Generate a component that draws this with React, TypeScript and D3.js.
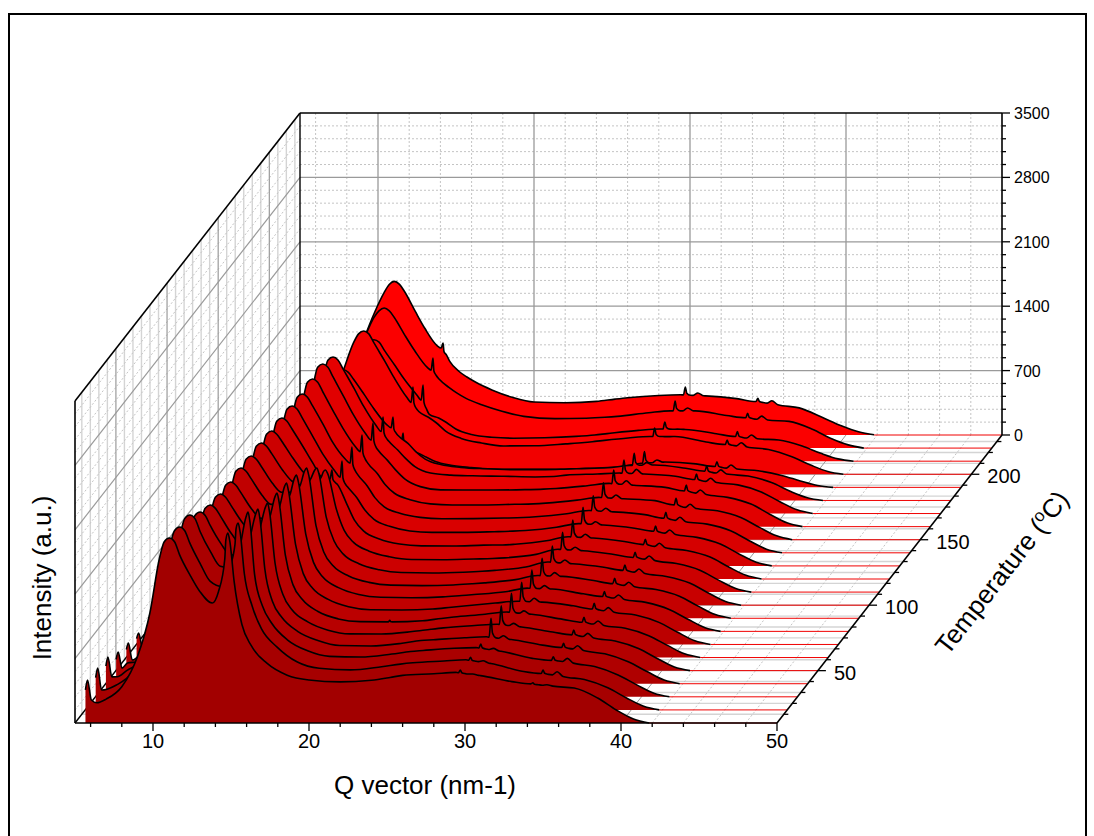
import React from "react";
import * as d3 from "d3";

const FONT = "'Liberation Sans', Arial, sans-serif";

const temperatures = [10,20,30,40,50,60,70,80,90,100,110,120,130,140,150,160,170,180,190,200,210,220,230];
const qGrid = [6.05,6.4,7,8,9,9.8,10.4,11.05,11.7,12.4,13,13.8,14.2,14.6,15.2,15.7,16.3,17.3,18.6,20,22,24,25.2,26,28,29.4,31,33,35,37,38.5,39.7,40.8,41.8];

const curve010 = [250,220,260,395,720,1196,1780,2011,1830,1600,1430,1304,1430,1780,1540,1070,840,650,520,468,447,465,495,518,535,550,515,450,410,380,272,141,43,0];
const curve020 = [216,225,270,400,700,1190,1760,1988,1815,1580,1400,1340,1520,1800,1480,1130,880,683,520,452,435,470,498,512,532,545,505,420,380,330,240,130,40,0];
const curve030 = [217,218,285,395,680,1170,1740,1976,1800,1570,1420,1400,1580,1800,1330,990,800,620,500,440,432,465,492,503,528,535,495,418,383,330,238,130,40,0];
const curve040 = [170,225,240,360,640,1110,1640,1866,1720,1520,1400,1400,1560,1720,1250,890,720,570,470,415,410,440,470,478,500,510,480,420,378,325,238,132,40,0];
const curve050 = [115,150,230,340,610,1050,1570,1800,1680,1490,1380,1390,1530,1680,1170,830,660,530,440,400,398,425,450,465,490,505,475,420,370,322,240,132,40,0];
const curve060 = [110,150,220,320,590,1030,1550,1778,1660,1480,1375,1390,1520,1650,1120,790,630,500,420,390,387,400,425,440,470,495,470,415,363,318,238,132,40,0];
const curve070 = [105,140,210,310,570,1010,1530,1766,1650,1470,1370,1390,1510,1620,1090,770,610,490,410,378,375,385,405,418,450,470,460,420,365,320,240,132,40,0];
const curve080 = [100,135,200,300,560,1000,1530,1776,1660,1480,1380,1390,1490,1590,1060,750,590,475,400,370,365,375,390,400,430,470,460,408,361,315,238,132,40,0];
const curve090 = [100,130,195,295,550,990,1520,1764,1650,1470,1370,1370,1450,1530,1010,720,570,460,390,360,355,362,375,385,420,465,455,410,356,312,240,132,40,0];
const curve100 = [95,130,190,290,540,980,1510,1763,1650,1470,1350,1300,1370,1440,960,700,555,450,385,355,350,358,368,378,415,470,450,412,358,312,241,132,40,0];
const curve110 = [95,125,185,285,530,970,1500,1751,1640,1460,1320,1200,1240,1280,900,670,540,445,385,355,352,360,365,372,410,465,450,408,357,310,238,130,40,0];
const curve120 = [90,120,180,280,520,960,1490,1750,1630,1440,1270,1080,1090,1030,820,640,520,435,380,360,358,368,370,378,415,460,445,408,353,310,238,130,40,0];
const curve130 = [90,120,178,275,510,950,1480,1738,1610,1400,1220,1030,950,860,740,610,505,430,380,365,365,372,378,385,420,460,445,410,355,310,238,130,40,0];
const curve140 = [85,115,175,270,500,940,1470,1726,1600,1390,1200,1020,960,850,730,600,500,430,385,370,372,378,384,392,425,460,445,415,351,312,240,132,40,0];
const curve150 = [85,115,172,265,500,945,1485,1747,1610,1390,1210,1010,940,830,720,600,505,435,390,378,378,385,390,398,430,460,445,425,350,315,242,134,42,0];
const curve160 = [85,115,172,265,500,950,1500,1767,1630,1410,1220,1010,930,830,720,620,520,435,400,398,398,402,408,415,445,470,450,427,363,318,245,135,42,0];
const curve170 = [80,110,170,260,480,910,1440,1701,1570,1360,1170,960,880,790,690,600,510,440,418,410,405,398,402,418,430,440,430,405,348,312,235,128,40,0];
const curve180 = [70,90,150,225,410,770,1200,1420,1320,1150,1000,830,780,700,620,530,450,390,360,345,335,335,340,345,355,380,385,350,297,265,195,100,30,0];
const curve190 = [55,70,110,165,300,570,900,1060,980,840,700,520,460,400,370,330,280,240,215,200,195,195,200,205,220,260,275,255,208,180,130,70,20,0];
const curve200 = [80,100,160,240,750,1155,1430,1557,1430,1230,1050,840,760,680,620,560,470,390,340,308,310,330,345,360,395,410,410,350,308,270,190,100,30,0];
const curve210 = [70,85,135,200,380,720,1120,1320,1210,1040,890,720,640,510,470,420,350,290,260,250,255,270,285,300,335,350,345,298,250,230,165,85,25,0];
const curve220 = [80,100,170,440,860,1200,1420,1522,1420,1220,1060,880,830,745,660,600,540,470,400,345,320,325,335,345,384,405,405,355,313,290,205,105,35,0];
const curve230 = [90,120,200,500,1000,1340,1550,1670,1560,1340,1160,970,930,800,690,630,570,490,410,358,350,365,390,405,430,437,425,395,345,295,190,100,35,2];
const curves = [curve010,curve020,curve030,curve040,curve050,curve060,curve070,curve080,curve090,curve100,curve110,curve120,curve130,curve140,curve150,curve160,curve170,curve180,curve190,curve200,curve210,curve220,curve230];

// first points of every scan and the low-Q reflection
const startQ = 5.67;
const lowQ = 5.8;
const startI = [360,350,335,265,230,205,175,160,145,140,130,125,125,125,120,115,100,85,60,85,75,85,95];
const lowTop = [467,455,433,345,300,267,230,210,190,180,170,165,160,160,155,150,130,110,80,110,95,110,120];

// second maximum, broad at low temperature and a narrow reflection above 110 C
const secondQ = [14.8,14.8,14.78,14.76,14.72,14.67,14.62,14.6,14.6,14.6,14.5,14.26,14.25,14.23,14.22,14.27,14.26,14.24,14.23,14.21,14.2,14.18,14.17];
const secondTop = [2065,2032,2009,1899,1822,1789,1755,1700,1634,1491,1327,1185,1140,1150,1138,1126,1049,907,590,948,828,979,1000];

// narrow reflections at high Q
const peakAQ = 29.7;
const peakATop = [576,572,574,711,705,699,676,667,652,643,650,641,637,621,620,615,582,513,388,503,426,511,522];
const peakA2Q = 30.5;
const peakA2Top = [533,535,527,522,514,507,502,497,496,491,487,486,480,484,486,499,480,411,298,409,348,435,457];
const peakBQ = 34.35;
const peakBTop = [438,434,436,439,441,438,448,432,435,437,433,432,434,440,450,452,429,375,279,373,321,378,399];
const peakB2Q = 35.25;
const peakB2Top = [415,415,418,413,405,398,400,396,391,393,392,388,390,386,385,398,383,332,243,343,285,348,373];
const tinySpikeT = 60;
const tinySpikeQ = 21.9;
const tinySpikeTop = 405;

const yMajor = [0,700,1400,2100,2800,3500];
const yMinor = [140,280,420,560,840,980,1120,1260,1540,1680,1820,1960,2240,2380,2520,2660,2940,3080,3220,3360];
const qMajor = [10,20,30,40,50];
const qMinor = [6,8,12,14,16,18,22,24,26,28,32,34,36,38,42,44,46,48];
const tMajor = [50,100,150,200];
const tMinor = d3.range(2, 28).map((k) => (k * 50) / 6).filter((t) => t > 10 && t < 230 && Math.abs(t % 50) > 1);

const xScale = d3.scaleLinear().domain([5, 50]).range([75, 777]);
const yScale = d3.scaleLinear().domain([0, 3500]).range([0, 322]);
const tX = d3.scaleLinear().domain([10, 230]).range([0, 225]);
const tY = d3.scaleLinear().domain([10, 230]).range([723, 435]);
const colorScale = d3.scaleLinear<string>().domain([10, 230]).range(["#a20000", "#ff0000"]);

const px = (q: number, t: number) => xScale(q) + tX(t);
const py = (v: number, t: number) => tY(t) - yScale(v);

function buildCurve(i: number): [number, number][] {
  const row = curves[i];
  const T = temperatures[i];
  const base = d3.scaleLinear().domain(qGrid).range(row);
  const extra: [number, number][] = [[startQ, startI[i]], [lowQ, lowTop[i]]];
  const removed: [number, number][] = [];
  const sharp = (q: number, top: number, l: number, r: number) => {
    removed.push([q - l, q + r]);
    extra.push([q - l, base(q - l)], [q, top], [q + r * 0.3, base(q + r) + (top - base(q + r)) * 0.25], [q + r, base(q + r)]);
  };
  const round = (q: number, top: number, l: number, r: number) => {
    removed.push([q - l, q + r]);
    extra.push([q - l, base(q - l)], [q, top], [q + r, base(q + r)]);
  };
  // rounded crest of the main maximum
  const crest = row[7];
  extra.push([10.72, crest * 0.98], [11.38, crest * 0.98]);
  if (T <= 110) {
    const q = secondQ[i];
    const top = secondTop[i];
    removed.push([q - 0.19, q + 0.19]);
    extra.push([q - 0.13, top - (top - base(q - 0.3)) * 0.2], [q, top], [q + 0.13, top - (top - base(q + 0.3)) * 0.2]);
  } else {
    sharp(secondQ[i], secondTop[i], 0.12, 0.2);
  }
  sharp(peakAQ, peakATop[i], 0.12, 0.32);
  round(peakA2Q, peakA2Top[i], 0.3, 0.38);
  sharp(peakBQ, peakBTop[i], 0.12, 0.34);
  round(peakB2Q, peakB2Top[i], 0.3, 0.38);
  if (T === tinySpikeT) sharp(tinySpikeQ, tinySpikeTop, 0.1, 0.15);
  const kept = qGrid
    .map((q, k) => [q, row[k]] as [number, number])
    .filter(([q]) => !removed.some(([a, b]) => q >= a && q <= b));
  return kept.concat(extra).sort((a, b) => a[0] - b[0]);
}

const GRAY = "#9a9a9a";
const LIGHT = "#d4d4d4";
const DOT = "#c4c4c4";
const DASH = "2 2";

export default function App() {
  const [x0, x1] = [xScale(5), xScale(50)];
  const backDx = tX(230);
  const backY = tY(230);
  const frontY = tY(10);
  const wallH = yScale(3500);

  return (
    <svg width={1094} height={836} style={{ position: "absolute", left: 0, top: 0, display: "block", background: "#fff" }} fontFamily={FONT}>
      <rect x={9} y={14} width={1077} height={840} fill="#fff" stroke="#000" strokeWidth={2} />

      {/* left wall */}
      <g fill="none">
        {tMinor.map((t) => (
          <line key={t} x1={x0 + tX(t)} x2={x0 + tX(t)} y1={tY(t)} y2={tY(t) - wallH} stroke={LIGHT} strokeWidth={1.4} />
        ))}
        {yMinor.map((v) => (
          <line key={v} x1={x0} x2={x0 + backDx} y1={frontY - yScale(v)} y2={backY - yScale(v)} stroke={DOT} strokeWidth={1} strokeDasharray={DASH} />
        ))}
        {tMajor.map((t) => (
          <line key={t} x1={x0 + tX(t)} x2={x0 + tX(t)} y1={tY(t)} y2={tY(t) - wallH} stroke={GRAY} strokeWidth={1.2} />
        ))}
        {yMajor.slice(1, -1).map((v) => (
          <line key={v} x1={x0} x2={x0 + backDx} y1={frontY - yScale(v)} y2={backY - yScale(v)} stroke={GRAY} strokeWidth={1.2} />
        ))}
      </g>

      {/* back wall */}
      <g fill="none">
        {qMinor.map((q) => (
          <line key={q} x1={xScale(q) + backDx} x2={xScale(q) + backDx} y1={backY} y2={backY - wallH} stroke={DOT} strokeWidth={1} strokeDasharray={DASH} />
        ))}
        {yMinor.map((v) => (
          <line key={v} x1={x0 + backDx} x2={x1 + backDx} y1={backY - yScale(v)} y2={backY - yScale(v)} stroke={DOT} strokeWidth={1} strokeDasharray={DASH} />
        ))}
        {qMajor.slice(0, -1).map((q) => (
          <line key={q} x1={xScale(q) + backDx} x2={xScale(q) + backDx} y1={backY} y2={backY - wallH} stroke={GRAY} strokeWidth={1.3} />
        ))}
        {yMajor.slice(1, -1).map((v) => (
          <line key={v} x1={x0 + backDx} x2={x1 + backDx} y1={backY - yScale(v)} y2={backY - yScale(v)} stroke={GRAY} strokeWidth={1.3} />
        ))}
      </g>

      {/* floor */}
      <g fill="none">
        {tMinor.map((t) => (
          <line key={t} x1={x0 + tX(t)} x2={x1 + tX(t)} y1={tY(t)} y2={tY(t)} stroke={LIGHT} strokeWidth={1.4} />
        ))}
        {tMajor.map((t) => (
          <line key={t} x1={x0 + tX(t)} x2={x1 + tX(t)} y1={tY(t)} y2={tY(t)} stroke={GRAY} strokeWidth={1} />
        ))}
        {qMinor.map((q) => (
          <line key={q} x1={xScale(q)} x2={xScale(q) + backDx} y1={frontY} y2={backY} stroke={DOT} strokeWidth={1} strokeDasharray={DASH} />
        ))}
        {qMajor.slice(0, -1).map((q) => (
          <line key={q} x1={xScale(q)} x2={xScale(q) + backDx} y1={frontY} y2={backY} stroke={GRAY} strokeWidth={1} />
        ))}
      </g>

      {/* box edges behind the data */}
      <g stroke="#000" fill="none">
        <line x1={x0} y1={frontY} x2={x0 + backDx} y2={backY} strokeWidth={1.4} />
        <line x1={x0 + backDx} y1={backY} x2={x0 + backDx} y2={backY - wallH} strokeWidth={1.4} />
      </g>

      {/* waterfall, back to front */}
      {temperatures
        .map((T, i) => ({ T, i }))
        .reverse()
        .map(({ T, i }) => {
          const pts = buildCurve(i);
          const lineGen = d3
            .line<[number, number]>()
            .x((d) => px(d[0], T))
            .y((d) => py(d[1], T))
            .curve(d3.curveMonotoneX);
          const areaGen = d3
            .area<[number, number]>()
            .x((d) => px(d[0], T))
            .y0(tY(T))
            .y1((d) => py(d[1], T))
            .curve(d3.curveMonotoneX);
          return (
            <g key={T}>
              <path d={areaGen(pts) ?? ""} fill={colorScale(T)} />
              <line x1={px(41.8, T)} x2={px(50, T)} y1={tY(T)} y2={tY(T)} stroke="#f00000" strokeWidth={1} />
              <path d={lineGen(pts) ?? ""} fill="none" stroke="#000" strokeWidth={1.6} strokeLinejoin="round" />
            </g>
          );
        })}

      {/* axes and front edges */}
      <g stroke="#000" fill="none">
        <line x1={x0} y1={frontY - wallH} x2={x0 + backDx} y2={backY - wallH} strokeWidth={1.6} />
        <line x1={x0} y1={frontY} x2={x0} y2={frontY - wallH} strokeWidth={1.6} />
        <line x1={x0 + backDx} y1={backY - wallH} x2={x1 + backDx} y2={backY - wallH} strokeWidth={1.6} />
        <line x1={x1 + backDx} y1={backY} x2={x1 + backDx} y2={backY - wallH} strokeWidth={1.6} />
        <line x1={x0} y1={frontY} x2={x1} y2={frontY} strokeWidth={1.6} />
        <line x1={x1} y1={frontY} x2={x1 + backDx} y2={backY} strokeWidth={1.6} />
        {qMajor.map((q) => (
          <line key={q} x1={xScale(q)} x2={xScale(q)} y1={frontY} y2={frontY + 8} strokeWidth={1.3} />
        ))}
        {qMinor.filter((q) => q < 50).map((q) => (
          <line key={q} x1={xScale(q)} x2={xScale(q)} y1={frontY} y2={frontY + 4} strokeWidth={1.3} />
        ))}
        {yMajor.map((v) => (
          <line key={v} x1={x1 + backDx} x2={x1 + backDx + 8} y1={backY - yScale(v)} y2={backY - yScale(v)} strokeWidth={1.3} />
        ))}
        {yMinor.map((v) => (
          <line key={v} x1={x1 + backDx} x2={x1 + backDx + 4} y1={backY - yScale(v)} y2={backY - yScale(v)} strokeWidth={1.3} />
        ))}
        {tMajor.map((t) => (
          <line key={t} x1={x1 + tX(t)} x2={x1 + tX(t) + 8} y1={tY(t)} y2={tY(t)} strokeWidth={1.3} />
        ))}
        {tMinor.map((t) => (
          <line key={t} x1={x1 + tX(t)} x2={x1 + tX(t) + 4.5} y1={tY(t)} y2={tY(t)} strokeWidth={1.3} />
        ))}
      </g>

      {/* tick labels */}
      <g fontSize={20} fill="#000">
        {qMajor.map((q) => (
          <text key={q} x={xScale(q)} y={frontY + 25} textAnchor="middle">{q}</text>
        ))}
        {tMajor.map((t) => (
          <text key={t} x={x1 + tX(t) + 16} y={tY(t) + 9}>{t}</text>
        ))}
      </g>
      <g fontSize={16} fill="#000">
        {yMajor.map((v) => (
          <text key={v} x={x1 + backDx + 12} y={backY - yScale(v) + 6}>{v}</text>
        ))}
      </g>

      {/* titles */}
      <text x={425} y={794} fontSize={26} textAnchor="middle" fill="#000">Q vector (nm-1)</text>
      <text transform="translate(51,578) rotate(-90)" fontSize={26} textAnchor="middle" fill="#000">Intensity (a.u.)</text>
      <text transform="translate(1009,578) rotate(-52)" fontSize={26} textAnchor="middle" fill="#000">
        Temperature (<tspan fontSize={17} dy={-9}>o</tspan><tspan dy={9}>C)</tspan>
      </text>
    </svg>
  );
}
